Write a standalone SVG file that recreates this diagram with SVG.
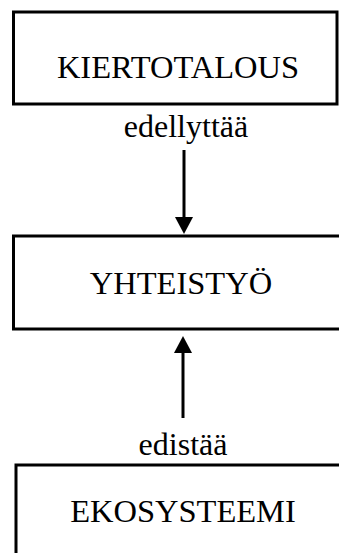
<svg xmlns="http://www.w3.org/2000/svg" width="339" height="553" viewBox="0 0 339 553">
<style>
.box{fill:#fff;stroke:#000;stroke-width:3}
.t{font-family:"Liberation Serif","Times New Roman",serif;font-size:32.5px;fill:#000;text-anchor:middle}
.lbl{font-family:"Liberation Serif","Times New Roman",serif;font-size:32px;fill:#000;text-anchor:middle}
.conn{stroke:#000;stroke-width:3;fill:none}
</style>
<defs>
<marker id="ah" markerUnits="userSpaceOnUse" markerWidth="17" markerHeight="18" refX="0" refY="9" orient="auto" viewBox="0 0 17 18">
<path d="M0,0 L17,9 L0,18 Z" fill="#000"/>
</marker>
</defs>
<rect width="339" height="553" fill="#fff"/>
<g id="connectors">
<line class="conn" x1="184" y1="150" x2="184" y2="217" marker-end="url(#ah)"/>
<line class="conn" x1="183" y1="418" x2="183" y2="353" marker-end="url(#ah)"/>
<text class="lbl" x="186" y="137">edellyttää</text>
<text class="lbl" x="183" y="455">edistää</text>
</g>
<g id="kiertotalous">
<rect class="box" x="13.5" y="12" width="323.5" height="92"/>
<text class="t" x="178" y="78">KIERTOTALOUS</text>
</g>
<g id="yhteistyo">
<rect class="box" x="13.5" y="236" width="340" height="93"/>
<text class="t" x="181" y="294">YHTEISTYÖ</text>
</g>
<g id="ekosysteemi">
<rect class="box" x="16" y="465" width="340" height="100"/>
<text class="t" x="183" y="522">EKOSYSTEEMI</text>
</g>
</svg>
